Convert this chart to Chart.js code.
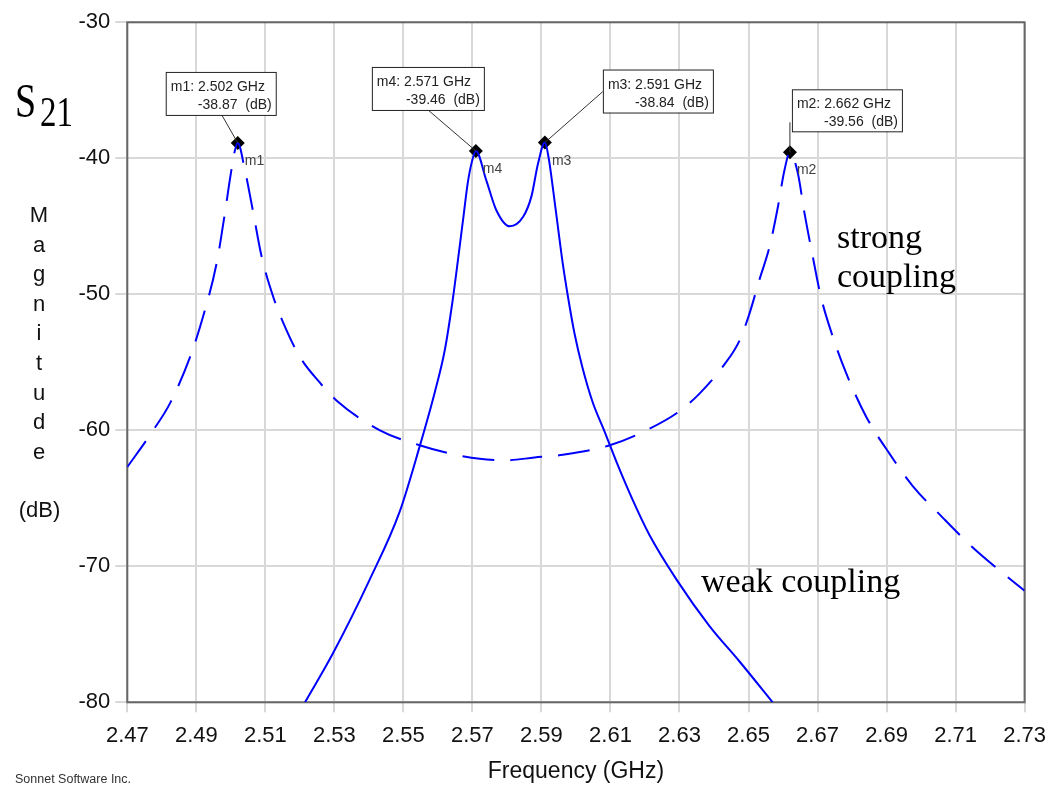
<!DOCTYPE html>
<html>
<head>
<meta charset="utf-8">
<title>S21 magnitude</title>
<script src="https://cdn.jsdelivr.net/npm/chart.js@4.4.1/dist/chart.umd.min.js"></script>
<style>
    html, body { margin: 0; padding: 0; background: #fff; }
</style>
</head>
<body>
<canvas id="s21Chart" width="1056" height="788"></canvas>
<script>
/* Values */
const strongFreq = [2.4700, 2.4775, 2.4824, 2.4882, 2.4920, 2.4959, 2.4983, 2.4997, 2.5012, 2.5020,
    2.5041, 2.5065, 2.5089, 2.5123, 2.5152, 2.5200, 2.5258, 2.5306, 2.5432, 2.5547,
    2.5634, 2.5721, 2.5800, 2.5880, 2.5962, 2.6098, 2.6204, 2.6300, 2.6358, 2.6426,
    2.6474, 2.6503, 2.6532, 2.6561, 2.6585, 2.6604, 2.6620, 2.6643, 2.6662, 2.6686,
    2.6710, 2.6744, 2.6783, 2.6841, 2.6908, 2.6976, 2.7062, 2.7149, 2.7227, 2.7300];
const strongDb = [-62.7, -60.0, -58.0, -54.6, -51.6, -47.7, -44.0, -41.6, -39.4, -38.87,
    -40.9, -44.0, -47.2, -50.2, -52.1, -54.6, -56.5, -57.8, -60.0, -61.1,
    -61.7, -62.1, -62.2, -62.0, -61.8, -61.1, -60.0, -58.6, -57.3, -55.3,
    -53.4, -51.4, -48.9, -46.5, -43.6, -40.9, -39.56, -41.1, -44.0, -47.2,
    -50.2, -53.1, -55.8, -59.0, -61.7, -64.1, -66.4, -68.6, -70.3, -71.8];

const weakFreq = [2.5215, 2.5296, 2.5402, 2.5489, 2.5547, 2.5591, 2.5620, 2.5643, 2.5660, 2.5675,
    2.5686, 2.5698, 2.5710, 2.5740, 2.5769, 2.5808, 2.5847, 2.5871, 2.5890, 2.5910,
    2.5921, 2.5932, 2.5947, 2.5961, 2.5977, 2.5996, 2.6019, 2.6048, 2.6083, 2.6121,
    2.6164, 2.6213, 2.6292, 2.6387, 2.6474, 2.6570];
const weakDb = [-80.0, -76.4, -71.0, -66.0, -61.2, -57.2, -54.1, -50.4, -47.1, -44.1,
    -41.9, -40.3, -39.46, -41.6, -43.8, -45.0, -44.3, -42.8, -40.4, -38.84,
    -39.98, -41.96, -44.9, -47.6, -50.2, -52.9, -55.4, -57.9, -60.1, -62.55,
    -65.1, -67.7, -71.0, -74.4, -77.0, -80.0];

const markerNames = ['m1', 'm2', 'm3', 'm4'];
const markerFreq = [2.502, 2.662, 2.591, 2.571];
const markerDb = [-38.87, -39.56, -38.84, -39.46];

const xTicks = [2.47, 2.49, 2.51, 2.53, 2.55, 2.57, 2.59, 2.61, 2.63, 2.65, 2.67, 2.69, 2.71, 2.73];
const yTicks = [-30, -40, -50, -60, -70, -80];

const SANS = '"Liberation Sans", Arial, sans-serif';
const SERIF = '"Liberation Serif", "Times New Roman", serif';

// marker callout boxes, offsets from the marker point
const callouts = {
    m1: { dx: -72, dy: -71, w: 110, h: 43, lx: -16, ly: -28 },
    m2: { dx: 2, dy: -63, w: 110, h: 42, lx: 0, ly: -30 },
    m3: { dx: 58, dy: -73, w: 110, h: 43, lx: 58, ly: -51 },
    m4: { dx: -104, dy: -84, w: 112, h: 43, lx: -49, ly: -42 }
};

const extras = {
    id: 'extras',
    beforeDatasetsDraw(chart) {
        const { ctx, chartArea: a } = chart;
        ctx.save();
        ctx.strokeStyle = '#666';
        ctx.lineWidth = 2;
        ctx.strokeRect(a.left, a.top, a.right - a.left, a.bottom - a.top);
        ctx.restore();
    },
    afterDatasetsDraw(chart) {
        const ctx = chart.ctx;
        const pts = chart.getDatasetMeta(2).data;
        ctx.save();
        markerNames.forEach((name, i) => {
            const p = pts[i];
            const c = callouts[name];
            const bx = p.x + c.dx, by = p.y + c.dy;
            // leader
            ctx.strokeStyle = '#333';
            ctx.lineWidth = 1;
            ctx.beginPath();
            ctx.moveTo(p.x + c.lx, p.y + c.ly);
            ctx.lineTo(p.x, p.y);
            ctx.stroke();
            // box
            ctx.fillStyle = '#fff';
            ctx.fillRect(bx, by, c.w, c.h);
            ctx.strokeStyle = '#222';
            ctx.strokeRect(bx + 0.5, by + 0.5, c.w, c.h);
            ctx.fillStyle = '#222';
            ctx.font = '14px ' + SANS;
            ctx.textAlign = 'left';
            ctx.textBaseline = 'alphabetic';
            ctx.fillText(name + ': ' + markerFreq[i].toFixed(3) + ' GHz', bx + 5, by + 19);
            ctx.textAlign = 'right';
            ctx.fillText(markerDb[i].toFixed(2) + '  (dB)', bx + c.w - 4, by + 37);
            // marker name
            ctx.textAlign = 'left';
            ctx.fillStyle = '#444';
            ctx.fillText(name, p.x + 7, p.y + 22);
        });
        ctx.restore();
    },
    afterDraw(chart) {
        const ctx = chart.ctx;
        ctx.save();
        ctx.fillStyle = '#000';
        ctx.textBaseline = 'alphabetic';

        // S21
        ctx.font = '38px ' + SERIF;
        ctx.save(); ctx.translate(15, 117); ctx.scale(1, 1.25); ctx.fillText('S', 0, 0); ctx.restore();
        ctx.font = '33px ' + SERIF;
        ctx.save(); ctx.translate(40, 126); ctx.scale(1, 1.3); ctx.fillText('21', 0, 0); ctx.restore();

        // curve notes
        ctx.font = '34px ' + SERIF;
        ctx.fillText('strong', 837, 248);
        ctx.fillText('coupling', 837, 287);
        ctx.fillText('weak coupling', 701, 592);

        // vertical y title
        ctx.fillStyle = '#111';
        ctx.font = '22px ' + SANS;
        ctx.textAlign = 'center';
        'Magnitude'.split('').forEach((ch, k) => ctx.fillText(ch, 39, 222 + 29.6 * k));
        ctx.fillText('(dB)', 39.5, 517);

        ctx.textAlign = 'left';
        ctx.fillStyle = '#333';
        ctx.font = '12.5px ' + SANS;
        ctx.fillText('Sonnet Software Inc.', 15, 783);
        ctx.restore();
    }
};

new Chart(document.getElementById('s21Chart'), {
    type: 'line',
    data: {
        datasets: [
            {
                label: 'strong coupling',
                data: strongFreq.map((f, i) => ({ x: f, y: strongDb[i] })),
                borderColor: '#0000ff',
                borderWidth: 2,
                borderDash: [32, 16],
                pointRadius: 0,
                cubicInterpolationMode: 'monotone'
            },
            {
                label: 'weak coupling',
                data: weakFreq.map((f, i) => ({ x: f, y: weakDb[i] })),
                borderColor: '#0000ff',
                borderWidth: 2,
                pointRadius: 0,
                cubicInterpolationMode: 'monotone'
            },
            {
                label: 'markers',
                data: markerFreq.map((f, i) => ({ x: f, y: markerDb[i] })),
                showLine: false,
                pointStyle: 'rectRot',
                pointRadius: 7,
                pointBackgroundColor: '#000',
                pointBorderColor: '#000',
                pointBorderWidth: 0
            }
        ]
    },
    options: {
        responsive: false,
        animation: false,
        layout: { padding: { top: 22.3, right: 30.4, bottom: 0, left: 0 } },
        plugins: {
            legend: { display: false },
            tooltip: { enabled: false }
        },
        scales: {
            x: {
                type: 'linear',
                min: 2.47,
                max: 2.73,
                afterBuildTicks: s => { s.ticks = xTicks.map(v => ({ value: v })); },
                afterFit: s => { s.height = 85.7; },
                ticks: {
                    color: '#111',
                    font: { family: SANS, size: 22 },
                    padding: 10,
                    maxRotation: 0,
                    autoSkip: false,
                    callback: v => v.toFixed(2)
                },
                grid: { color: '#d8d8d8', lineWidth: 2, tickLength: 10 },
                border: { display: false },
                title: {
                    display: true,
                    text: 'Frequency (GHz)',
                    color: '#111',
                    font: { family: SANS, size: 23 },
                    padding: { top: 0, bottom: 3 }
                }
            },
            y: {
                min: -80,
                max: -30,
                afterBuildTicks: s => { s.ticks = yTicks.map(v => ({ value: v })); },
                afterFit: s => { s.width = 127.3; },
                ticks: {
                    color: '#111',
                    font: { family: SANS, size: 22 },
                    padding: 5,
                    autoSkip: false
                },
                grid: { color: '#d8d8d8', lineWidth: 2, tickLength: 12 },
                border: { display: false }
            }
        }
    },
    plugins: [extras]
});
</script>
</body>
</html>
